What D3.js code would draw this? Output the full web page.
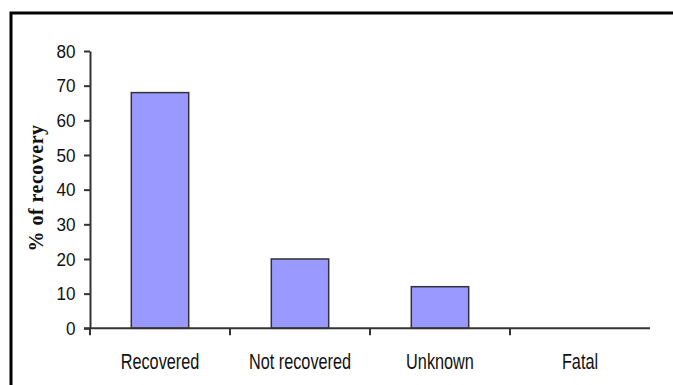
<!DOCTYPE html>
<html>
<head>
<meta charset="utf-8">
<script src="https://cdn.jsdelivr.net/npm/d3@7"></script>
<style>
  body { margin:0; background:#fff; }
  .axis path, .axis line { stroke:#333; stroke-width:2; }
  .axis text { font-family:"Liberation Sans", Arial, sans-serif; fill:#111; }
</style>
</head>
<body>
<div id="canvas" class="canvas"></div>
<script>
// data
var categories = ['Recovered','Not recovered','Unknown','Fatal'];
var values = [68, 20, 12, 0];
var yTicks = [0,10,20,30,40,50,60,70,80];

var outerWidth = 673, outerHeight = 385;
var m = {t:51, l:90};
var w = 560, h = 277.3;

var svg = d3.select('.canvas')
    .append('svg')
    .attr('width',outerWidth)
    .attr('height',outerHeight);

// frame (only top and left edges visible)
svg.append('path')
    .attr('d','M11,' + outerHeight + 'V13H' + outerWidth)
    .attr('fill','none')
    .attr('stroke','#000')
    .attr('stroke-width',3);

var plot = svg.append('g')
    .attr('transform','translate(' + m.l + ',' + m.t + ')');

var scaleX = d3.scaleBand()
    .domain(categories)
    .range([0,w])
    .paddingInner(0.59)
    .paddingOuter(0.295);
var scaleY = d3.scaleLinear()
    .domain([0,80])
    .range([h,0]);

// bars
plot.selectAll('.bar')
    .data(values)
    .enter()
    .append('rect')
    .attr('class','bar')
    .attr('x',function(d,i){ return scaleX(categories[i]); })
    .attr('y',function(d){ return scaleY(d); })
    .attr('width',scaleX.bandwidth())
    .attr('height',function(d){ return h - scaleY(d); })
    .attr('fill','#9999ff')
    .attr('stroke','#333')
    .attr('stroke-width',1.5)
    .style('display',function(d){ return d > 0 ? null : 'none'; });

// y axis
var axisY = d3.axisLeft(scaleY)
    .tickValues(yTicks)
    .tickSize(6)
    .tickPadding(10)
    .tickSizeOuter(0);
var gy = plot.append('g').attr('class','axis axis-y').call(axisY);
gy.selectAll('text')
    .style('font-size','19px')
    .attr('transform','scale(0.9,1)');

// x axis: ticks sit on the category boundaries
var bounds = d3.range(categories.length + 1).map(function(i){ return i * scaleX.step(); });
var gx = plot.append('g').attr('class','axis axis-x')
    .attr('transform','translate(0,' + h + ')');
gx.append('line')
    .attr('x1',-6).attr('x2',w)
    .attr('y1',0).attr('y2',0);
gx.selectAll('.tk')
    .data(bounds.slice(0, categories.length))
    .enter()
    .append('line')
    .attr('class','tk')
    .attr('x1',function(d){ return d; })
    .attr('x2',function(d){ return d; })
    .attr('y1',0).attr('y2',7);
gx.selectAll('.lbl')
    .data(categories)
    .enter()
    .append('text')
    .attr('class','lbl')
    .attr('transform',function(d){
        return 'translate(' + (scaleX(d) + scaleX.bandwidth()/2) + ',41) scale(0.74,1)';
    })
    .attr('text-anchor','middle')
    .style('font-size','22px')
    .text(function(d){ return d; });

// y title
svg.append('text')
    .attr('transform','translate(43,188) rotate(-90)')
    .attr('text-anchor','middle')
    .style('font-family','"Liberation Serif", "Times New Roman", serif')
    .style('font-weight','bold')
    .style('font-size','20px')
    .style('letter-spacing','0.5px')
    .attr('fill','#111')
    .text('% of recovery');
</script>
</body>
</html>
